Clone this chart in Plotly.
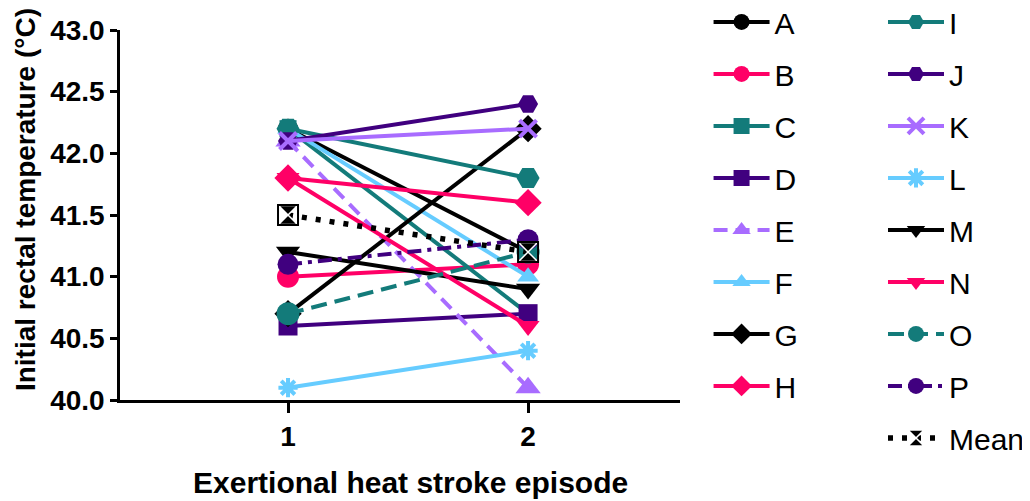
import plotly.graph_objects as go

episodes = [1, 2]
names = ["A", "B", "C", "D", "E", "F", "G", "H",
         "I", "J", "K", "L", "M", "N", "O", "P"]
A = [42.2, 41.2]
B = [41.0, 41.1]
C = [42.2, 40.7]
D = [40.6, 40.7]
E = [42.1, 40.1]
F = [42.2, 41.0]
G = [40.7, 42.2]
H = [41.8, 41.6]
I = [42.2, 41.8]
J = [42.1, 42.4]
K = [42.1, 42.2]
L = [40.1, 40.4]
M = [41.2, 40.9]
N = [41.8, 40.6]
O = [40.7, 41.2]
P = [41.1, 41.3]
mean_vals = [41.5, 41.2]
series = [A, B, C, D, E, F, G, H, I, J, K, L, M, N, O, P]
y_ticks = [40.0, 40.5, 41.0, 41.5, 42.0, 42.5, 43.0]
x_title = "Exertional heat stroke episode"
y_title = "Initial rectal temperature (°C)"

BLACK = "#000000"
PINK = "#FF0066"
TEAL = "#137B7A"
DPURP = "#40007F"
LPURP = "#A86CFF"
LBLUE = "#66CCFF"

styles = [
    (BLACK, "circle", "solid", 20),
    (PINK, "circle", "solid", 22),
    (TEAL, "square", "solid", 17),
    (DPURP, "square", "solid", 19),
    (LPURP, "triangle-up", "14px,8px", 22),
    (LBLUE, "triangle-up", "solid", 19),
    (BLACK, "diamond", "solid", 21),
    (PINK, "diamond", "solid", 21),
    (TEAL, "hexagon2", "solid", 23),
    (DPURP, "hexagon2", "solid", 20),
    (LPURP, "x-thin-open", "solid", 17),
    (LBLUE, "asterisk-open", "solid", 16),
    (BLACK, "triangle-down", "solid", 21),
    (PINK, "triangle-down", "solid", 20),
    (TEAL, "circle", "16px,8px", 23),
    (DPURP, "circle", "14px,6px,4px,6px", 21),
]

fig = go.Figure()
for idx, (nm, vals, (col, sym, dash, sz)) in enumerate(zip(names, series, styles)):
    open_sym = sym.endswith("-open")
    fig.add_trace(go.Scatter(
        x=episodes, y=vals, name=nm, mode="lines+markers",
        line=dict(color=col, width=4, dash=dash),
        marker=dict(symbol=sym, size=sz, color=col,
                    line=dict(color=col, width=4 if open_sym else 0)),
        legend="legend" if idx < 8 else "legend2",
        legendgroup=nm,
    ))

fig.add_trace(go.Scatter(
    x=episodes, y=mean_vals, name="Mean", mode="lines+markers",
    line=dict(color=BLACK, width=5.5, dash="5px,9px"),
    marker=dict(symbol="hourglass", size=19, color=BLACK,
                line=dict(color="white", width=1.5)),
    legend="legend2", legendgroup="Mean",
))
fig.add_trace(go.Scatter(
    x=episodes, y=mean_vals, mode="markers", showlegend=False,
    marker=dict(symbol="square-open", size=20, color=BLACK,
                line=dict(color=BLACK, width=2)),
    hoverinfo="skip",
))

FAM = "Liberation Sans, Arial, sans-serif"
tick_font = dict(family=FAM, size=28, color="black")

fig.update_layout(
    width=1022, height=493,
    margin=dict(l=112, r=350, t=22, b=101, autoexpand=False),
    plot_bgcolor="white", paper_bgcolor="white",
    font=dict(family=FAM, color="black"),
    xaxis=dict(
        range=[0.3, 2.633], tickvals=episodes,
        ticktext=["<b>%d</b>" % e for e in episodes],
        showline=True, linecolor="black", linewidth=2.5,
        ticks="outside", ticklen=10, tickwidth=2.5, tickcolor="black",
        showgrid=False, zeroline=False, tickfont=tick_font,
    ),
    yaxis=dict(
        range=[40, 43], tickvals=y_ticks,
        ticktext=["<b>%.1f</b>" % v for v in y_ticks],
        showline=True, linecolor="black", linewidth=2.5,
        ticks="outside", ticklen=7, tickwidth=2.5, tickcolor="black",
        showgrid=False, zeroline=False, tickfont=tick_font,
    ),
    annotations=[
        dict(text="<b>%s</b>" % x_title, xref="paper", yref="paper",
             x=0.518, y=-0.224, xanchor="center", yanchor="middle",
             showarrow=False, font=dict(family=FAM, size=30, color="black")),
        dict(text="<b>%s</b>" % y_title, xref="paper", yref="paper",
             x=-0.1696, y=0.5405, xanchor="center", yanchor="middle", textangle=-90,
             showarrow=False, font=dict(family=FAM, size=28, color="black")),
    ],
    legend=dict(x=1.051, y=1.092, xanchor="left", yanchor="top", maxheight=1000,
                itemwidth=56,
                font=dict(size=30), tracegroupgap=10, bgcolor="rgba(0,0,0,0)"),
    legend2=dict(x=1.3625, y=1.092, xanchor="left", yanchor="top", maxheight=1000,
                 itemwidth=56,
                 font=dict(size=30), tracegroupgap=10, bgcolor="rgba(0,0,0,0)"),
)

fig.write_html("out.html")
